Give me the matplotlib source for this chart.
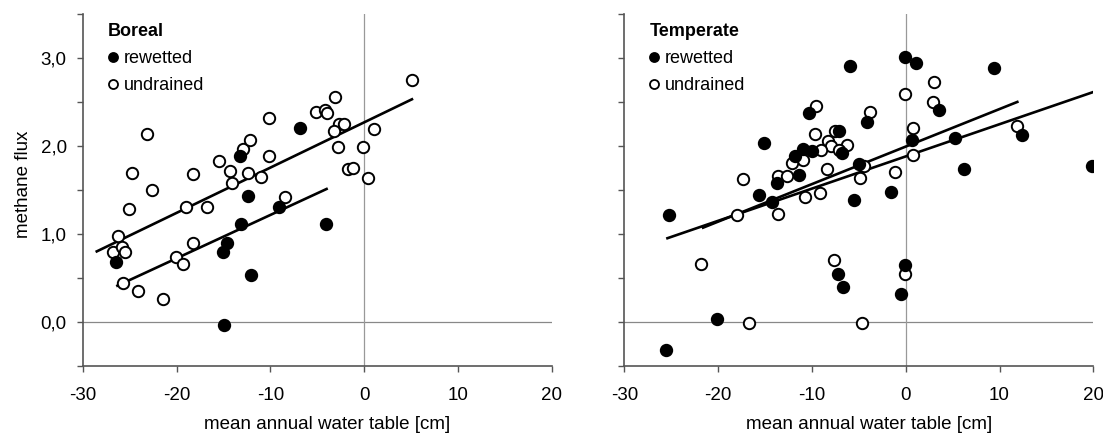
import numpy as np
import matplotlib
matplotlib.use('Agg')
import matplotlib.pyplot as plt
from matplotlib.lines import Line2D
from matplotlib.ticker import MultipleLocator, FuncFormatter

plt.rcParams['font.family'] = ['Liberation Sans', 'DejaVu Sans']
plt.rcParams['font.size'] = 13
plt.rcParams['axes.unicode_minus'] = False

'Boreal sites'
boreal_und_x = [-23.1, -24.7, -22.6, -25.1, -19.0, -16.8, -18.2, -15.5, -14.3, -14.1,
                -12.9, -12.2, -12.4, -11.0, -10.1, -10.1, -8.4, -5.1, -4.2, -4.0,
                -3.1, -2.7, -2.1, -3.2, -2.8, -1.7, -1.2, -0.1, 1.1, 0.4, 5.1,
                -26.2, -26.8, -25.8, -25.5, -25.7, -24.1, -21.4, -20.1, -19.3, -18.2]
boreal_und_y = [2.14, 1.69, 1.50, 1.28, 1.30, 1.31, 1.68, 1.83, 1.72, 1.58,
                1.96, 2.07, 1.69, 1.65, 2.32, 1.88, 1.42, 2.39, 2.41, 2.37,
                2.56, 2.25, 2.25, 2.17, 1.99, 1.74, 1.75, 1.99, 2.19, 1.63, 2.75,
                0.98, 0.79, 0.85, 0.79, 0.44, 0.35, 0.26, 0.74, 0.66, 0.90]
boreal_rew_x = [-13.2, -6.8, -12.4, -9.1, -26.4, -15.0, -14.6, -13.1, -12.1, -14.9, -4.1]
boreal_rew_y = [1.88, 2.20, 1.43, 1.30, 0.68, 0.79, 0.89, 1.11, 0.53, -0.04, 1.11]

# regression lines: (x start, x end, y start, y end)
boreal_fit_und = (-28.5, 5.1, 0.80, 2.53)
boreal_fit_rew = (-26.3, -4.0, 0.41, 1.51)

'Temperate sites'
temp_rew_x = [-5.9, -10.3, -15.1, -10.9, -10.0, -11.8, -6.8, -7.1, -11.4, -13.7,
              -15.6, -14.3, -25.2, -5.5, -5.0, -7.2, -6.7, -20.1, -25.6,
              -0.1, 1.1, 9.4, 3.6, -4.1, 5.3, 0.7, 12.4, 6.2, 19.9, -1.6, -0.1, -0.5]
temp_rew_y = [2.91, 2.37, 2.03, 1.97, 1.94, 1.88, 1.92, 2.17, 1.67, 1.58,
              1.44, 1.36, 1.21, 1.38, 1.79, 0.54, 0.39, 0.03, -0.32,
              3.01, 2.94, 2.89, 2.41, 2.27, 2.09, 2.07, 2.12, 1.74, 1.77, 1.47, 0.65, 0.32]
temp_und_x = [-9.6, -9.7, -7.5, -8.3, -8.0, -6.3, -9.0, -7.1, -10.9, -12.1,
              -13.6, -12.7, -8.4, -17.3, -10.7, -9.1, -13.6, -18.0, -21.8, -7.6,
              -16.7, 3.0, -0.1, 2.9, -3.8, 0.8, 11.9, -4.4, -4.9, 0.8, -1.1, -0.1, -4.7]
temp_und_y = [2.45, 2.13, 2.17, 2.05, 2.00, 2.01, 1.95, 1.95, 1.84, 1.80,
              1.66, 1.66, 1.74, 1.62, 1.42, 1.46, 1.23, 1.21, 0.66, 0.70,
              -0.01, 2.73, 2.59, 2.50, 2.39, 2.20, 2.23, 1.77, 1.63, 1.90, 1.70, 0.54, -0.01]

temp_fit_a = (-21.6, 11.9, 1.07, 2.50)
temp_fit_b = (-25.4, 20.2, 0.95, 2.62)

W, H = 1103, 434
fig = plt.figure(figsize=(W / 100, H / 100), dpi=100)
ax1 = fig.add_axes([82.7 / W, 68.3 / H, 469 / W, 351.7 / H])
ax2 = fig.add_axes([624.3 / W, 68.3 / H, 469 / W, 351.7 / H])

mk = dict(linestyle='none', marker='o', markersize=8.2, markeredgewidth=1.4,
          markeredgecolor='black')


def style(ax, ylabels=True):
    ax.set_xlim(-30, 20)
    ax.set_ylim(-0.5, 3.5)
    for s in ['top', 'right']:
        ax.spines[s].set_visible(False)
    for s in ['left', 'bottom']:
        ax.spines[s].set_color('#555555')
        ax.spines[s].set_linewidth(1.2)
    ax.axhline(0, color='#888888', lw=0.9, zorder=0)
    ax.axvline(0, color='#999999', lw=0.9, zorder=0)
    ax.xaxis.set_major_locator(MultipleLocator(10))
    ax.yaxis.set_major_locator(MultipleLocator(0.5))
    ax.tick_params(direction='out', length=4.5, width=1.0, color='#555555',
                   labelsize=13.5)
    ax.tick_params(axis='x', pad=11)
    ax.tick_params(axis='y', pad=7)
    if ylabels:
        ax.yaxis.set_major_formatter(FuncFormatter(
            lambda v, p: ('%.1f' % v).replace('.', ',') if abs(v - round(v)) < 1e-6 and v >= 0 else ''))
    else:
        ax.yaxis.set_major_formatter(FuncFormatter(lambda v, p: ''))
    ax.set_xlabel('mean annual water table [cm]', fontsize=13.5)
    ax.xaxis.set_label_coords(0.521, -0.142)


def fit(ax, f):
    ax.plot([f[0], f[1]], [f[2], f[3]], color='black', lw=1.9, zorder=3)


def legend(ax, title):
    handles = [Line2D([], [], linestyle='none', marker='o', markersize=6.5, markerfacecolor='black',
                      markeredgecolor='black', markeredgewidth=1.3),
               Line2D([], [], linestyle='none', marker='o', markersize=6.5, markerfacecolor='white',
                      markeredgecolor='black', markeredgewidth=1.3)]
    leg = ax.legend(handles, ['rewetted', 'undrained'], title=title, loc='upper left',
                    bbox_to_anchor=(0.035, 1.0), frameon=False, handlelength=0.5,
                    handletextpad=0.35, labelspacing=0.55, borderaxespad=0.1,
                    fontsize=13, title_fontproperties={'weight': 'bold', 'size': 13},
                    alignment='left')
    return leg


# Boreal
style(ax1)
ax1.plot(boreal_und_x, boreal_und_y, markerfacecolor='white', zorder=4, **mk)
ax1.plot(boreal_rew_x, boreal_rew_y, markerfacecolor='black', zorder=5, **mk)
fit(ax1, boreal_fit_und)
fit(ax1, boreal_fit_rew)
ax1.set_ylabel('methane flux', fontsize=13.5)
ax1.yaxis.set_label_coords(-0.108, 0.515)
legend(ax1, 'Boreal')

# Temperate
style(ax2, ylabels=False)
ax2.plot(temp_und_x, temp_und_y, markerfacecolor='white', zorder=4, **mk)
ax2.plot(temp_rew_x, temp_rew_y, markerfacecolor='black', zorder=5, **mk)
fit(ax2, temp_fit_a)
fit(ax2, temp_fit_b)
legend(ax2, 'Temperate')

fig.savefig('out.png', dpi=100)
